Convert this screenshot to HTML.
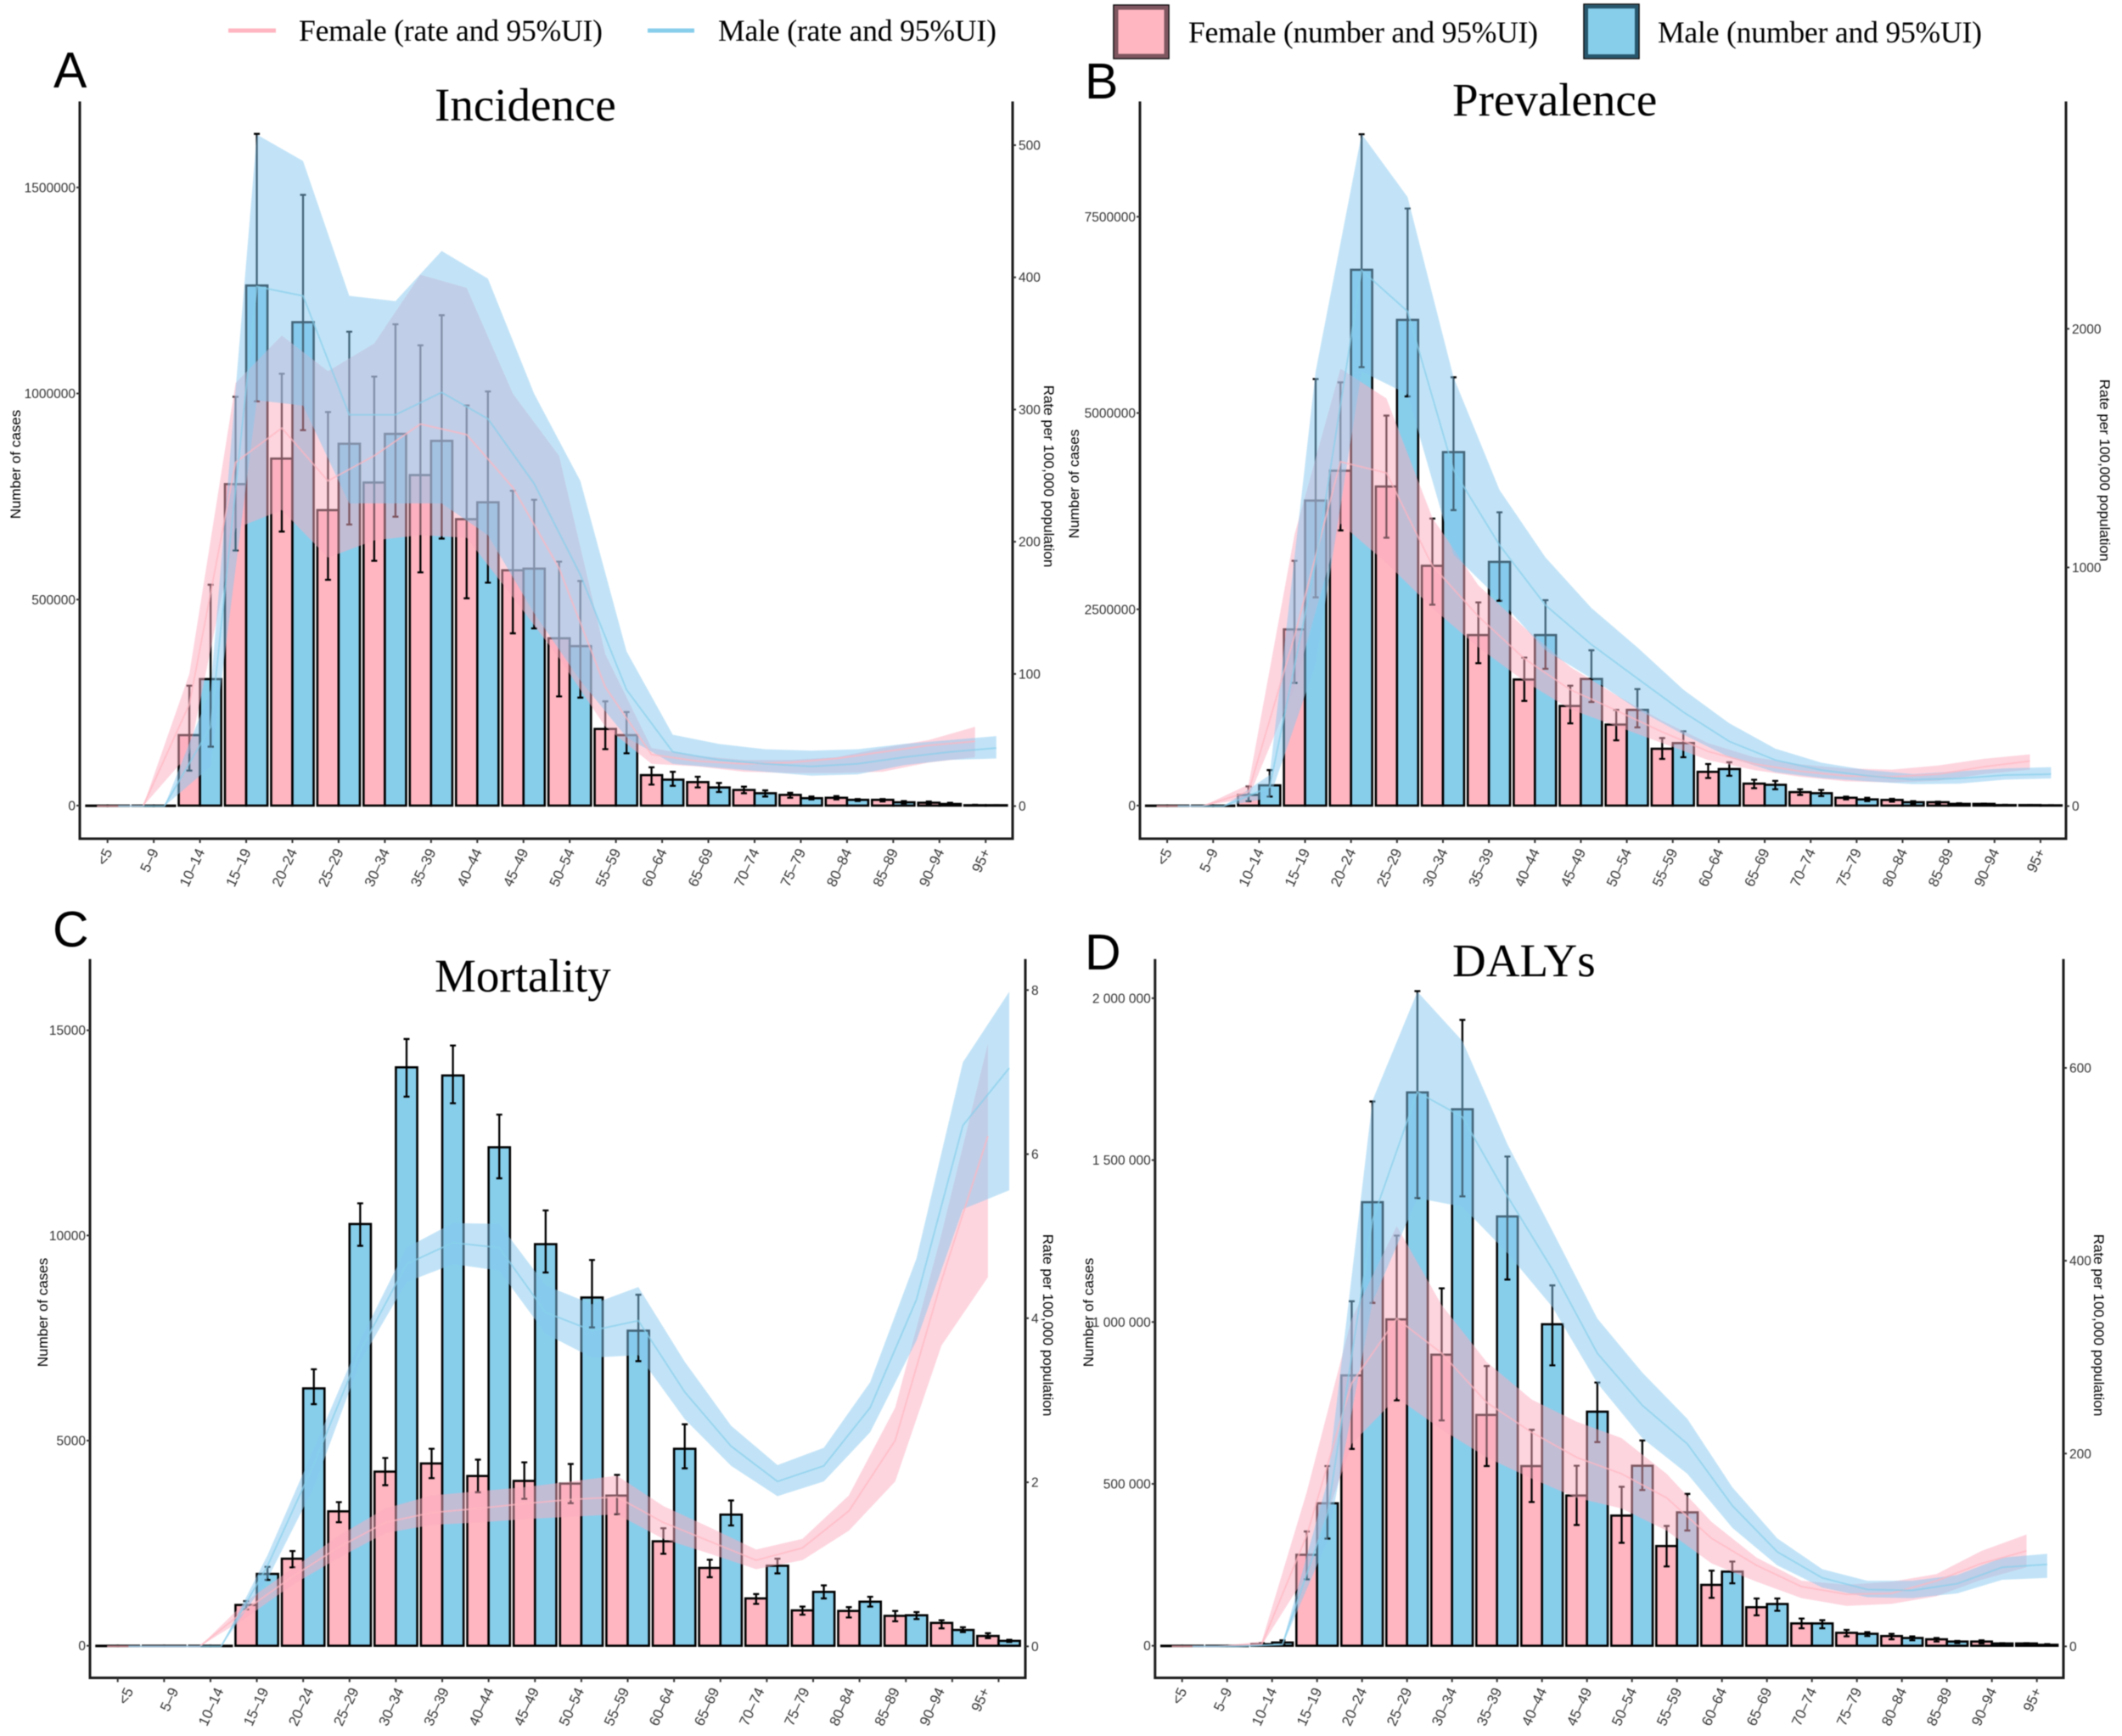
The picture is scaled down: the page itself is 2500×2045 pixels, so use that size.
<!DOCTYPE html>
<html lang="en">
<head>
<meta charset="utf-8">
<title>Incidence, Prevalence, Mortality and DALYs by age and sex</title>
<style>
html,body{margin:0;padding:0;background:#fff;width:2500px;height:2045px;overflow:hidden}
svg{display:block;filter:blur(0.4px)}
.serif{font-family:"Liberation Serif",serif;fill:#000}
.sans{font-family:"Liberation Sans",sans-serif}
.tick{font-family:"Liberation Sans",sans-serif;font-size:15.5px;fill:#333}
.xtick{font-family:"Liberation Sans",sans-serif;font-size:17px;fill:#333}
.atitle{font-family:"Liberation Sans",sans-serif;font-size:17px;fill:#000}
</style>
</head>
<body>
<svg id="figure" xmlns="http://www.w3.org/2000/svg" width="2500" height="2045" viewBox="0 0 2500 2045">
  <rect x="0" y="0" width="2500" height="2045" fill="#fff"/>
  <g>
    <line x1="269" y1="36" x2="325" y2="36" stroke="#FFB6C1" stroke-width="5"/>
    <text class="serif" x="352" y="48" font-size="35.6" textLength="358" lengthAdjust="spacing">Female (rate and 95%UI)</text>
    <line x1="763" y1="36" x2="818" y2="36" stroke="#87CEEB" stroke-width="5"/>
    <text class="serif" x="846" y="48" font-size="35.6" textLength="328" lengthAdjust="spacing">Male (rate and 95%UI)</text>
    <rect x="1312" y="6" width="65" height="63" fill="#FFB6C1" stroke="#000" stroke-width="1.5"/>
    <rect x="1315" y="9" width="59" height="57" fill="none" stroke="#7d5660" stroke-width="5"/>
    <text class="serif" x="1400" y="50" font-size="35.6" textLength="412" lengthAdjust="spacing">Female (number and 95%UI)</text>
    <rect x="1866" y="5" width="65" height="64" fill="#87CEEB" stroke="#000" stroke-width="1.5"/>
    <rect x="1869" y="8" width="59" height="58" fill="none" stroke="#26566c" stroke-width="4"/>
    <text class="serif" x="1953" y="50" font-size="35.6" textLength="382" lengthAdjust="spacing">Male (number and 95%UI)</text>
  </g>
</svg>
<script>
const categories = ["<5","5\u20139","10\u201314","15\u201319","20\u201324","25\u201329","30\u201334","35\u201339","40\u201344","45\u201349","50\u201354","55\u201359","60\u201364","65\u201369","70\u201374","75\u201379","80\u201384","85\u201389","90\u201394","95+"];

/* A: Incidence (cases in thousands, rate per 100,000) */
const incidenceFemaleCases   = [0,0,171,780,842,717,784,802,695,571,406,186,74,57,38,26,19,14,7,1];
const incidenceFemaleCasesHi = [0,0,291,992,1048,955,1041,1117,971,764,592,253,93,70,46,31,23,16,10,2];
const incidenceFemaleCasesLo = [0,0,85,619,665,548,594,566,503,418,265,137,51,44,30,19,15,10,4,1];
const incidenceMaleCases     = [0,0,307,1262,1173,878,902,885,736,575,387,171,63,44,30,18,14,8,4,1];
const incidenceMaleCasesHi   = [0,0,536,1630,1482,1150,1168,1190,1005,742,545,227,82,55,37,22,16,11,7,1];
const incidenceMaleCasesLo   = [0,0,143,981,911,682,701,648,541,430,262,127,48,33,22,15,11,5,1,1];
const incidenceFemaleRate    = [0,0,77,260,286,246,265,289,281,241,180,90,39,34,32,33,36,41,46,49];
const incidenceFemaleRateHi  = [0,0,100,320,356,329,350,402,392,312,265,115,44,38,35,35,37,44,50,60];
const incidenceFemaleRateLo  = [0,0,40,210,224,188,201,205,203,158,112,60,32,30,26,25,25,26,33,37];
const incidenceMaleRate      = [0,0,60,393,386,296,296,313,293,244,175,88,41,35,32,30,32,37,41,44];
const incidenceMaleRateHi    = [0,0,88,508,488,386,382,420,399,312,246,117,54,47,43,42,43,47,50,53];
const incidenceMaleRateLo    = [0,0,30,307,303,229,229,229,205,146,95,52,32,29,26,23,24,31,35,36];
const incidenceLeftTicks  = [0,500000,1000000,1500000];
const incidenceLeftLabels = ["0","500000","1000000","1500000"];
const incidenceRightTicks = [0,100,200,300,400,500];

/* B: Prevalence */
const prevalenceFemaleCases   = [0,0,136,2244,4265,4064,3054,2172,1606,1269,1032,724,430,280,172,100,72,43,22,7];
const prevalenceFemaleCasesHi = [0,0,244,3118,5390,4967,3656,2588,1885,1527,1219,860,530,330,208,115,86,50,26,9];
const prevalenceFemaleCasesLo = [0,0,57,1563,3505,3412,2559,1814,1333,1047,831,595,351,222,136,79,50,22,14,5];
const prevalenceMaleCases     = [0,0,258,3885,6824,6186,4502,3104,2172,1613,1219,796,466,265,158,79,43,22,7,4];
const prevalenceMaleCasesHi   = [0,0,452,5433,8551,7605,5455,3735,2616,1978,1484,946,552,315,200,100,57,29,10,5];
const prevalenceMaleCasesLo   = [0,0,115,2652,5584,5211,3763,2609,1742,1319,996,616,380,208,122,57,22,14,4,2];
const prevalenceFemaleRate    = [0,0,60,712,1443,1396,1007,795,618,488,401,311,229,177,146,127,123,134,165,189];
const prevalenceFemaleRateHi  = [0,0,90,1137,1833,1708,1208,925,748,583,465,358,264,205,175,158,153,170,198,217];
const prevalenceFemaleRateLo  = [0,0,34,500,1184,1019,830,665,524,406,335,264,193,151,123,104,99,106,134,153];
const prevalenceMaleRate      = [0,0,80,1019,2245,2073,1408,1094,842,677,535,394,271,193,151,127,111,116,130,134];
const prevalenceMaleRateHi    = [0,0,130,1821,2816,2552,1797,1325,1042,830,665,488,347,241,182,151,134,146,158,163];
const prevalenceMaleRateLo    = [0,0,34,594,1821,1726,1054,866,653,535,406,300,205,142,118,104,92,94,111,116];
const prevalenceLeftTicks  = [0,2500000,5000000,7500000];
const prevalenceLeftLabels = ["0","2500000","5000000","7500000"];
const prevalenceRightTicks = [0,1000,2000];

/* C: Mortality (cases, rate per 100,000) */
const mortalityFemaleCases   = [0,0,0,995,2122,3276,4244,4443,4138,4018,3952,3660,2546,1897,1154,862,849,729,557,239];
const mortalityFemaleCasesHi = [0,0,0,1088,2308,3501,4576,4801,4536,4470,4430,4165,2865,2096,1260,955,942,849,623,305];
const mortalityFemaleCasesLo = [0,0,0,889,1910,3011,3913,4085,3740,3581,3475,3210,2241,1671,1021,756,690,597,424,186];
const mortalityMaleCases     = [0,0,0,1751,6273,10279,14098,13899,12149,9788,8488,7679,4801,3196,1950,1313,1074,743,385,119];
const mortalityMaleCasesHi   = [0,0,0,1923,6738,10783,14788,14629,12945,10610,9403,8555,5398,3541,2122,1472,1194,822,451,146];
const mortalityMaleCasesLo   = [0,0,0,1605,5889,9748,13383,13223,11393,9098,7759,6936,4324,2931,1764,1154,955,650,332,93];
const mortalityFemaleRate    = [0,0,0,.45,.85,1.21,1.51,1.63,1.68,1.74,1.79,1.82,1.51,1.28,1.05,1.20,1.65,2.51,4.46,6.22];
const mortalityFemaleRateHi  = [0,0,0,.55,.95,1.35,1.68,1.84,1.89,1.94,2.01,2.08,1.71,1.45,1.18,1.31,1.84,2.91,5.03,7.35];
const mortalityFemaleRateLo  = [0,0,0,.35,.75,1.08,1.38,1.48,1.51,1.55,1.58,1.61,1.31,1.13,.94,1.05,1.41,2.01,3.67,4.50];
const mortalityMaleRate      = [0,0,0,.98,2.22,3.60,4.66,4.92,4.86,4.07,3.85,3.97,3.10,2.44,2.01,2.20,2.91,4.23,6.35,7.05];
const mortalityMaleRateHi    = [0,0,0,1.11,2.41,3.73,4.86,5.16,5.15,4.40,4.17,4.38,3.47,2.69,2.21,2.42,3.22,4.73,7.12,7.98];
const mortalityMaleRateLo    = [0,0,0,.82,1.94,3.47,4.44,4.66,4.58,3.81,3.52,3.55,2.77,2.20,1.83,2.01,2.61,3.73,5.33,5.56];
const mortalityLeftTicks  = [0,5000,10000,15000];
const mortalityLeftLabels = ["0","5000","10000","15000"];
const mortalityRightTicks = [0,2,4,6,8];

/* D: DALYs (cases in thousands) */
const dalysFemaleCases   = [0,0,5,281,835,1008,899,713,555,464,402,308,188,119,69,40,30,20,13,7];
const dalysFemaleCasesHi = [0,0,8,353,1064,1267,1104,864,667,556,491,370,232,146,84,49,37,24,17,8];
const dalysFemaleCasesLo = [0,0,3,205,608,758,696,555,444,373,318,245,148,94,54,29,20,13,7,5];
const dalysMaleCases     = [0,0,10,440,1370,1709,1657,1326,993,723,556,412,229,129,69,37,24,13,7,3];
const dalysMaleCasesHi   = [0,0,17,555,1681,2022,1933,1511,1113,813,634,469,260,146,79,42,29,15,8,5];
const dalysMaleCasesLo   = [0,0,3,331,1059,1383,1388,1131,866,629,481,356,193,108,54,30,17,8,3,2];
const dalysFemaleRate    = [0,0,2,115,273,340,304,253,222,196,179,154,112,84,62,54,55,68,86,99];
const dalysFemaleRateHi  = [0,0,5,160,340,436,354,295,256,233,216,179,129,92,68,64,67,75,99,116];
const dalysFemaleRateLo  = [0,0,1,75,210,258,225,196,174,154,143,120,86,67,50,42,44,52,69,82];
const dalysMaleRate      = [0,0,2,137,442,575,549,467,391,304,250,210,146,98,71,59,58,65,82,85];
const dalysMaleRateHi    = [0,0,3,171,566,679,628,521,431,340,284,236,165,112,80,68,68,74,92,96];
const dalysMaleRateLo    = [0,0,1,109,357,465,456,408,352,273,216,179,123,84,61,51,50,55,69,71];
const dalysLeftTicks  = [0,500000,1000000,1500000,2000000];
const dalysLeftLabels = ["0","500 000","1 000 000","1 500 000","2 000 000"];
const dalysRightTicks = [0,200,400,600];

const FEMALE = "#FFB6C1";
const MALE = "#87CEEB";
const FEMALE_BAND = "#FBABBF";
const MALE_BAND = "#85C8F0";
const NS = "http://www.w3.org/2000/svg";
const root = document.getElementById("figure");

function mk(parent, tag, props, text) {
  const el = document.createElementNS(NS, tag);
  for (const k in props) el.setAttribute(k, props[k]);
  if (text !== undefined) el.textContent = text;
  parent.appendChild(el);
  return el;
}
function linear(v0, p0, v1, p1) {
  return v => p0 + (v - v0) * (p1 - p0) / (v1 - v0);
}

function drawPanel(cfg) {
  const g = mk(root, "g", {});
  
  
  const L = cfg.layout;
  const xTick = i => L.firstTick + i * L.step;
  const xLabel = i => (L.labelFirst === undefined ? L.firstTick : L.labelFirst) + i * (L.labelStep === undefined ? L.step : L.labelStep);
  const barW = L.step * 0.46;
  const yCases = linear(0, L.zeroLeft, cfg.leftTicks[cfg.leftTicks.length - 1], L.topTickLeft);
  const yRate = linear(0, L.zeroRight, cfg.rightTicks[cfg.rightTicks.length - 1], L.topTickRight);
  const U = cfg.unit;

  // bars
  categories.forEach((c, i) => {
    [[cfg.fCases, FEMALE, -barW, 'female'], [cfg.mCases, MALE, 0, 'male']].forEach(s => {
      const y = yCases(s[0][i] * U);
      const bar = mk(g, "rect", {
        x: xTick(i) + s[2], y: y, width: barW,
        height: Math.max(L.zeroLeft - y, 0.4),
        fill: s[1], stroke: "#000", "stroke-width": 2.6
      });
      
      
    });
  });

  // error bars
  categories.forEach((c, i) => {
    [[cfg.fCases, cfg.fHi, cfg.fLo, -barW / 2, 'female'], [cfg.mCases, cfg.mHi, cfg.mLo, barW / 2, 'male']].forEach(s => {
      if (s[0][i] === 0) return;
      const x = xTick(i) + s[3];
      const hi = yCases(s[1][i] * U);
      const lo = yCases(s[2][i] * U);
      const eb = mk(g, "path", {
        d: "M" + (x - 3.5) + " " + hi + "H" + (x + 3.5) + "M" + x + " " + hi + "V" + lo + "M" + (x - 3.5) + " " + lo + "H" + (x + 3.5),
        fill: "none", stroke: "#000", "stroke-width": 2.3
      });
      
      
    });
  });

  // uncertainty bands and rate lines
  function band(hi, lo, off, color, name) {
    const up = hi.map((v, i) => (xTick(i) + off) + "," + yRate(v));
    const dn = lo.map((v, i) => (xTick(i) + off) + "," + yRate(v)).reverse();
    const p = mk(g, "polygon", { points: up.concat(dn).join(" "), fill: color, "fill-opacity": 0.5, stroke: "none" });
    
    
  }
  function rateLine(vals, off, color, name) {
    const pts = vals.map((v, i) => (xTick(i) + off) + "," + yRate(v)).join(" ");
    const p = mk(g, "polyline", { points: pts, fill: "none", stroke: color, "stroke-width": 2, "stroke-opacity": 0.7 });
    
    
  }
  band(cfg.fRateHi, cfg.fRateLo, -barW / 2, FEMALE_BAND, 'female');
  band(cfg.mRateHi, cfg.mRateLo, barW / 2, MALE_BAND, 'male');
  rateLine(cfg.fRate, -barW / 2, FEMALE, 'female');
  rateLine(cfg.mRate, barW / 2, MALE, 'male');

  // axes
  const axes = mk(g, "path", {
    d: "M" + L.left + " " + L.top + "V" + L.bottom + "H" + L.right + "V" + L.top,
    fill: "none", stroke: "#1a1a1a", "stroke-width": 3
  });
  
  

  categories.forEach((c, i) => {
    const x = xTick(i);
    const t = mk(g, "line", { x1: x, y1: L.bottom, x2: x, y2: L.bottom + 5, stroke: "#333", "stroke-width": 2 });
    
    
    const lx = xLabel(i) + 6;
    const ly = L.bottom + 15;
    const lab = mk(g, "text", { class: "xtick", x: lx, y: ly, "text-anchor": "end", transform: "rotate(-65 " + lx + " " + ly + ")" }, c);
    
    
  });

  cfg.leftTicks.forEach((v, i) => {
    const y = yCases(v);
    const t = mk(g, "line", { x1: L.left - 4, y1: y, x2: L.left, y2: y, stroke: "#333", "stroke-width": 2 });
    
    
    const lab = mk(g, "text", { class: "tick", x: L.left - 5, y: y + 5.5, "text-anchor": "end" }, cfg.leftLabels[i]);
    
    
  });
  cfg.rightTicks.forEach(v => {
    const y = yRate(v);
    const t = mk(g, "line", { x1: L.right, y1: y, x2: L.right + 4, y2: y, stroke: "#333", "stroke-width": 2 });
    
    
    const lab = mk(g, "text", { class: "tick", x: L.right + 7, y: y + 5.5 }, String(v));
    
    
  });

  // titles
  const yt = mk(g, "text", { class: "atitle", x: L.leftTitleX, y: L.leftTitleY, "text-anchor": "middle", transform: "rotate(-90 " + L.leftTitleX + " " + L.leftTitleY + ")" }, "Number of cases");
  
  
  const rt = mk(g, "text", { class: "atitle", x: L.rightTitleX, y: L.rightTitleY, "text-anchor": "middle", transform: "rotate(90 " + L.rightTitleX + " " + L.rightTitleY + ")" }, "Rate per 100,000 population");
  
  
  const title = mk(g, "text", { class: "serif", x: L.titleX, y: L.titleY, "font-size": 55 }, cfg.title);
  
  
  const letter = mk(g, "text", { class: "sans", x: L.letterX, y: L.letterY, "font-size": 59, fill: "#000" }, cfg.letter);
  
  
}

drawPanel({
  key: "incidence", title: "Incidence", letter: "A", unit: 1000,
  fCases: incidenceFemaleCases, fHi: incidenceFemaleCasesHi, fLo: incidenceFemaleCasesLo,
  mCases: incidenceMaleCases, mHi: incidenceMaleCasesHi, mLo: incidenceMaleCasesLo,
  fRate: incidenceFemaleRate, fRateHi: incidenceFemaleRateHi, fRateLo: incidenceFemaleRateLo,
  mRate: incidenceMaleRate, mRateHi: incidenceMaleRateHi, mRateLo: incidenceMaleRateLo,
  leftTicks: incidenceLeftTicks, leftLabels: incidenceLeftLabels, rightTicks: incidenceRightTicks,
  layout: { left: 94, right: 1193, top: 119.5, bottom: 988, firstTick: 126.7, step: 54.45,
    zeroLeft: 949, topTickLeft: 220.8, zeroRight: 949.6, topTickRight: 171,
    leftTitleX: 24, leftTitleY: 547, rightTitleX: 1230, rightTitleY: 561,
    titleX: 512, titleY: 142, letterX: 63, letterY: 103 }
});
drawPanel({
  key: "prevalence", title: "Prevalence", letter: "B", unit: 1000,
  fCases: prevalenceFemaleCases, fHi: prevalenceFemaleCasesHi, fLo: prevalenceFemaleCasesLo,
  mCases: prevalenceMaleCases, mHi: prevalenceMaleCasesHi, mLo: prevalenceMaleCasesLo,
  fRate: prevalenceFemaleRate, fRateHi: prevalenceFemaleRateHi, fRateLo: prevalenceFemaleRateLo,
  mRate: prevalenceMaleRate, mRateHi: prevalenceMaleRateHi, mRateLo: prevalenceMaleRateLo,
  leftTicks: prevalenceLeftTicks, leftLabels: prevalenceLeftLabels, rightTicks: prevalenceRightTicks,
  layout: { left: 1343, right: 2434, top: 119.5, bottom: 988, firstTick: 1375.1, step: 54.15,
    zeroLeft: 949, topTickLeft: 255.3, zeroRight: 949.6, topTickRight: 387.3,
    leftTitleX: 1271, leftTitleY: 570, rightTitleX: 2474, rightTitleY: 554,
    titleX: 1711, titleY: 136, letterX: 1278, letterY: 116 }
});
drawPanel({
  key: "mortality", title: "Mortality", letter: "C", unit: 1,
  fCases: mortalityFemaleCases, fHi: mortalityFemaleCasesHi, fLo: mortalityFemaleCasesLo,
  mCases: mortalityMaleCases, mHi: mortalityMaleCasesHi, mLo: mortalityMaleCasesLo,
  fRate: mortalityFemaleRate, fRateHi: mortalityFemaleRateHi, fRateLo: mortalityFemaleRateLo,
  mRate: mortalityMaleRate, mRateHi: mortalityMaleRateHi, mRateLo: mortalityMaleRateLo,
  leftTicks: mortalityLeftTicks, leftLabels: mortalityLeftLabels, rightTicks: mortalityRightTicks,
  layout: { left: 106, right: 1208, top: 1129.7, bottom: 1976.5, firstTick: 138.7, step: 54.62,
    labelFirst: 151.5, labelStep: 53.1,
    zeroLeft: 1938.7, topTickLeft: 1213.7, zeroRight: 1939.4, topTickRight: 1166.3,
    leftTitleX: 56, leftTitleY: 1546, rightTitleX: 1229, rightTitleY: 1561,
    titleX: 512, titleY: 1168, letterX: 62, letterY: 1115 }
});
drawPanel({
  key: "dalys", title: "DALYs", letter: "D", unit: 1000,
  fCases: dalysFemaleCases, fHi: dalysFemaleCasesHi, fLo: dalysFemaleCasesLo,
  mCases: dalysMaleCases, mHi: dalysMaleCasesHi, mLo: dalysMaleCasesLo,
  fRate: dalysFemaleRate, fRateHi: dalysFemaleRateHi, fRateLo: dalysFemaleRateLo,
  mRate: dalysMaleRate, mRateHi: dalysMaleRateHi, mRateLo: dalysMaleRateLo,
  leftTicks: dalysLeftTicks, leftLabels: dalysLeftLabels, rightTicks: dalysRightTicks,
  layout: { left: 1360.8, right: 2431, top: 1129.7, bottom: 1976.5, firstTick: 1392.7, step: 53.0,
    zeroLeft: 1938.7, topTickLeft: 1175.9, zeroRight: 1939.4, topTickRight: 1258,
    leftTitleX: 1288, leftTitleY: 1546, rightTitleX: 2467, rightTitleY: 1561,
    titleX: 1711, titleY: 1150, letterX: 1278, letterY: 1142 }
});
</script>
</body>
</html>
